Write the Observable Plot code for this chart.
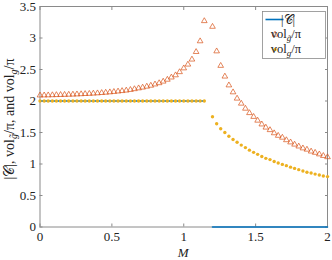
<!DOCTYPE html>
<html><head><meta charset="utf-8">
<script src="https://cdn.jsdelivr.net/npm/d3@7"></script>
<script src="https://cdn.jsdelivr.net/npm/@observablehq/plot@0.6"></script>
<style>body{margin:0;background:#fff} #chart{width:332px;height:260px}</style>
</head><body><div id="chart"></div>
<script>
// M values (uniform grid)
const M = [0,0.029,0.057,0.086,0.114,0.143,0.171,0.2,0.229,0.257,
  0.286,0.314,0.343,0.371,0.4,0.429,0.457,0.486,0.514,0.543,
  0.571,0.6,0.629,0.657,0.686,0.714,0.743,0.771,0.8,0.829,
  0.857,0.886,0.914,0.943,0.971,1,1.029,1.057,1.086,1.114,
  1.143,1.171,1.2,1.229,1.257,1.286,1.314,1.343,1.371,1.4,
  1.429,1.457,1.486,1.514,1.543,1.571,1.6,1.629,1.657,1.686,
  1.714,1.743,1.771,1.8,1.829,1.857,1.886,1.914,1.943,1.971,2];
// |C|
const cardC = [2,2,2,2,2,2,2,2,2,2, 2,2,2,2,2,2,2,2,2,2,
  2,2,2,2,2,2,2,2,2,2, 2,2,2,2,2,2,2,2,2,2,
  2,null,0,0,0,0,0,0,0,0, 0,0,0,0,0,0,0,0,0,0,
  0,0,0,0,0,0,0,0,0,0,0];
// vol_g~/pi (triangles)
const volTilde = [2.090,2.091,2.092,2.094,2.096,2.098,2.100,2.102,2.104,2.107,
  2.110,2.113,2.116,2.120,2.124,2.129,2.134,2.140,2.146,2.153,
  2.160,2.168,2.178,2.190,2.203,2.215,2.230,2.245,2.265,2.285,
  2.310,2.340,2.375,2.410,2.460,2.520,2.580,2.660,2.780,2.950,
  3.270,null,3.180,2.790,2.560,2.390,2.250,2.140,2.040,1.960,
  1.880,1.810,1.750,1.690,1.630,1.580,1.540,1.490,1.450,1.420,
  1.380,1.345,1.310,1.280,1.250,1.230,1.200,1.180,1.155,1.130,1.110];
// vol_g/pi (dots)
const volG = [2,2,2,2,2,2,2,2,2,2, 2,2,2,2,2,2,2,2,2,2,
  2,2,2,2,2,2,2,2,2,2, 2,2,2,2,2,2,2,2,2,2,
  2,null,1.750,1.640,1.560,1.500,1.440,1.390,1.345,1.300,
  1.260,1.220,1.185,1.153,1.120,1.090,1.070,1.040,1.015,0.994,
  0.974,0.950,0.930,0.910,0.890,0.870,0.856,0.840,0.825,0.810,0.800];
const xTicks = [0, 0.5, 1, 1.5, 2];
const yTicks = [0, 0.5, 1, 1.5, 2, 2.5, 3, 3.5];

const rows = M.map((m, i) => ({M: m, C: cardC[i], vt: volTilde[i], vg: volG[i]}));
const axisColor = "#8a8a8a";
const blue = "#0072BD", orange = "#D95319", yellow = "#EDB120";
const serif = "Liberation Serif";

const plot = Plot.plot({
  width: 332, height: 260,
  marginLeft: 39.5, marginRight: 5, marginTop: 6, marginBottom: 33.5,
  x: {domain: [0, 2]},
  y: {domain: [0, 3.5]},
  style: {fontFamily: serif, fontSize: "13px", color: "#222", background: "white"},
  marks: [
    Plot.frame({stroke: axisColor}),
    Plot.axisX({ticks: xTicks, tickSize: -3, tickPadding: 8, label: null, stroke: axisColor, tickFormat: d => String(d)}),
    Plot.axisX({anchor: "top", ticks: xTicks, tickSize: -3, label: null, stroke: axisColor, tickFormat: () => ""}),
    Plot.axisY({ticks: yTicks, tickSize: -3, tickPadding: 7, label: null, stroke: axisColor, tickFormat: d => String(d)}),
    Plot.axisY({anchor: "right", ticks: yTicks, tickSize: -3, label: null, stroke: axisColor, tickFormat: () => ""}),
    Plot.line(rows, {x: "M", y: "C", stroke: blue, strokeWidth: 1.6, defined: d => d.C != null}),
    Plot.dot(rows.filter(d => d.vt != null), {x: "M", y: "vt", symbol: "triangle", r: 2.1, stroke: orange, strokeWidth: 0.7, fill: "none"}),
    Plot.dot(rows.filter(d => d.vg != null), {x: "M", y: "vg", r: 1.7, fill: yellow, stroke: "none"})
  ]
});
document.getElementById("chart").append(plot);

const svg = d3.select(plot);
// axis labels
svg.append("text").attr("x", 183.25).attr("y", 257).attr("text-anchor", "middle")
  .style("font-family", serif).style("font-style", "italic").style("font-size", "13px").attr("fill", "#222").text("M");
const yl = svg.append("text").attr("transform", "translate(14,119) rotate(-90)").attr("text-anchor", "middle")
  .style("font-family", serif).style("font-size", "14px").attr("fill", "#222");
yl.append("tspan").text("|");
yl.append("tspan").text("𝒞");
yl.append("tspan").text("|, vol");
yl.append("tspan").attr("dy", 3).style("font-size", "10px").style("font-style", "italic").text("g̃");
yl.append("tspan").attr("dy", -3).text("/π, and vol");
yl.append("tspan").attr("dy", 3).style("font-size", "10px").style("font-style", "italic").text("g");
yl.append("tspan").attr("dy", -3).text("/π");

// legend
const lg = svg.append("g").style("font-family", serif).style("font-size", "12.5px");
lg.append("rect").attr("x", 262.5).attr("y", 11.5).attr("width", 63).attr("height", 47)
  .attr("fill", "white").attr("stroke", axisColor).attr("stroke-width", 0.8);
lg.append("line").attr("x1", 265.5).attr("x2", 283.5).attr("y1", 19.5).attr("y2", 19.5).attr("stroke", blue).attr("stroke-width", 1.6);
const t1 = lg.append("text").attr("x", 288).attr("y", 23.5).attr("fill", "#222");
t1.append("tspan").text("|"); t1.append("tspan").text("𝒞"); t1.append("tspan").text("|");
lg.append("path").attr("d", d3.symbol(d3.symbolTriangle, 2.1 * 2.1 * Math.PI)()).attr("transform", "translate(275,34.5)")
  .attr("fill", "none").attr("stroke", orange).attr("stroke-width", 0.7);
const t2 = lg.append("text").attr("x", 286).attr("y", 38).attr("fill", "#222");
t2.append("tspan").text("vol");
t2.append("tspan").attr("dy", 3).style("font-size", "9px").style("font-style", "italic").text("g̃");
t2.append("tspan").attr("dy", -3).text("/π");
lg.append("circle").attr("cx", 275).attr("cy", 49.5).attr("r", 1.7).attr("fill", yellow);
const t3 = lg.append("text").attr("x", 286).attr("y", 53).attr("fill", "#222");
t3.append("tspan").text("vol");
t3.append("tspan").attr("dy", 3).style("font-size", "9px").style("font-style", "italic").text("g");
t3.append("tspan").attr("dy", -3).text("/π");
</script>
</body></html>
